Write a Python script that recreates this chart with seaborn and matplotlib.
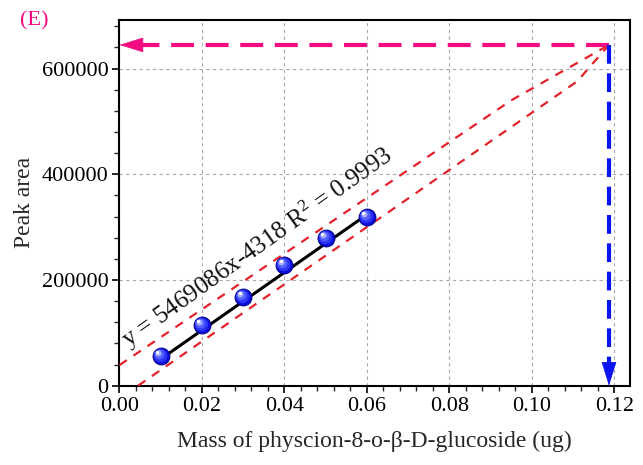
import matplotlib
matplotlib.use("Agg")
import matplotlib.pyplot as plt
from matplotlib.ticker import MultipleLocator, FormatStrFormatter
from matplotlib import transforms
import numpy as np
import pandas as pd
import seaborn as sns

# Calibration standards: mass (ug) and measured peak area
mass = [0.01, 0.02, 0.03, 0.04, 0.05, 0.06]
peak_area = [56200, 114800, 167800, 228400, 279400, 319800]

# Linear fit reported for the calibration
slope = 5469086
intercept = -4318
r_squared = 0.9993

# Sample read-off: peak area mapped back to mass through the fit
sample_mass = 0.1187
sample_area = slope * sample_mass + intercept

# Dashed guide band around the fit
upper_x = [0.0, 0.095, sample_mass]
upper_y = [39000, 540000, sample_area]
lower_x = [0.0045, 0.111, sample_mass]
lower_y = [0, 576000, sample_area]

sns.set_theme(style="ticks")
plt.rcParams["font.family"] = ["Liberation Serif", "DejaVu Serif"]
plt.rcParams["mathtext.fontset"] = "custom"
plt.rcParams["mathtext.rm"] = "Liberation Serif"
plt.rcParams["mathtext.default"] = "regular"

fig = plt.figure(figsize=(6.43, 4.65), dpi=100)
ax = fig.add_axes([0.1858, 0.1705, 0.7940, 0.7865])

pink = "#f20c80"
blue = "#0a14f0"
red = "#e3222a"

# Guide band
band = pd.DataFrame({"x": upper_x + lower_x,
                     "y": upper_y + lower_y,
                     "edge": ["upper"] * len(upper_x) + ["lower"] * len(lower_x)})
for name, grp in band.groupby("edge"):
    ax.plot(grp["x"], grp["y"], color=red, lw=1.6, dashes=(4.0, 3.6), zorder=3)

# Fitted calibration line over the standards' range
fit_x = np.array([mass[0], mass[-1]])
fit = pd.DataFrame({"x": fit_x, "y": slope * fit_x + intercept})
sns.lineplot(data=fit, x="x", y="y", ax=ax, color="black", lw=2.2, zorder=4)

# Standards drawn as shaded spheres
data = pd.DataFrame({"mass": mass, "area": peak_area})
sns.scatterplot(data=data, x="mass", y="area", ax=ax, s=150, color="#0c0cd8",
                edgecolor="#00007a", linewidth=0.6, zorder=5)
shades = [(95, "#2a35f5", -0.8), (50, "#5560ff", -1.5), (18, "#a8b0ff", -2.2), (5, "#ffffff", -2.6)]
for size, col, off in shades:
    tr = transforms.offset_copy(ax.transData, fig=fig, x=off, y=-off, units="points")
    ax.scatter(mass, peak_area, s=size, color=col, linewidths=0, transform=tr, zorder=6)

# Read-off arrows: area -> y axis, mass -> x axis
ax.plot([sample_mass, 0.003], [sample_area, sample_area], color=pink, lw=3.0,
        dashes=(5.5, 2.8), zorder=7, solid_capstyle="butt")
ax.annotate("", xy=(0.0, sample_area), xytext=(0.006, sample_area),
            arrowprops=dict(arrowstyle="-|>,head_length=16,head_width=5",
                            mutation_scale=1, color=pink, lw=0.5,
                            shrinkA=0, shrinkB=0), zorder=8)
ax.plot([sample_mass, sample_mass], [sample_area, 30000], color=blue, lw=3.0,
        dashes=(4.5, 2.3), zorder=7)
ax.annotate("", xy=(sample_mass, 0.0), xytext=(sample_mass, 40000),
            arrowprops=dict(arrowstyle="-|>,head_length=16,head_width=5",
                            mutation_scale=1, color=blue, lw=0.5,
                            shrinkA=0, shrinkB=0), zorder=8)

# Fit equation written along the line
ax.text(0.0334, 262000, f"y = {slope}x{intercept} R$^2$ = {r_squared}",
        rotation=35.5, rotation_mode="anchor", ha="center", va="center",
        fontsize=18, color="#111111", zorder=9)

ax.set_xlim(0, 0.1238)
ax.set_ylim(0, 692000)
ax.xaxis.set_major_locator(MultipleLocator(0.02))
ax.xaxis.set_minor_locator(MultipleLocator(0.004))
ax.yaxis.set_major_locator(MultipleLocator(200000))
ax.yaxis.set_minor_locator(MultipleLocator(40000))
ax.xaxis.set_major_formatter(FormatStrFormatter("%.2f"))
ax.yaxis.set_major_formatter(FormatStrFormatter("%d"))
ax.tick_params(which="major", direction="out", length=5, width=1.2, labelsize=16,
               colors="black", top=False, right=False, pad=3)
ax.tick_params(which="minor", direction="out", length=3.5, width=1.0,
               top=False, right=False)
ax.grid(which="major", color="#a8a8a8", lw=0.8, ls=(0, (3, 3)))
ax.set_axisbelow(True)
for sp in ax.spines.values():
    sp.set_visible(True)
    sp.set_linewidth(1.5)
    sp.set_color("black")

ax.set_xlabel("Mass of physcion-8-o-β-D-glucoside (ug)", fontsize=17, labelpad=11)
ax.set_ylabel("Peak area", fontsize=17, labelpad=5)

fig.text(0.031, 0.955, "(E)", color=pink, fontsize=16, ha="left", va="center")

fig.savefig("out.png", dpi=100)
